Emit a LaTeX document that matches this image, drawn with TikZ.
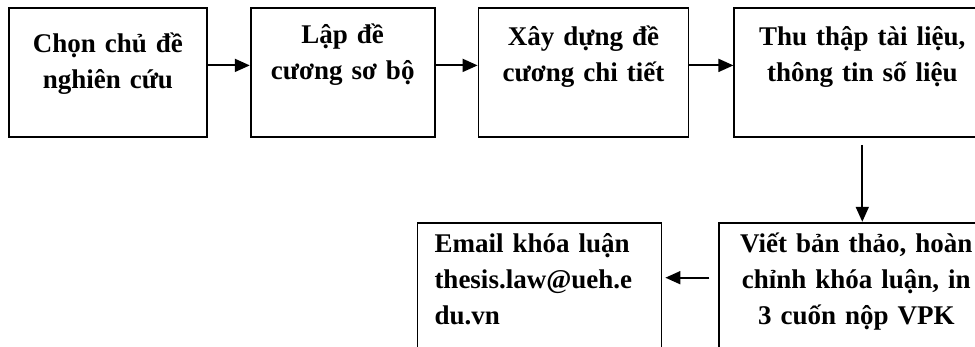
\documentclass[tikz,border=0pt]{standalone}
\usepackage{fontspec}
\setmainfont{Liberation Serif}
\usetikzlibrary{arrows.meta,positioning}

\begin{document}
\begin{tikzpicture}[x=1pt,y=-1pt,->,>={Triangle[length=15pt,width=13pt]},line width=1.8pt,
            stepbox/.style={draw,inner xsep=0pt,inner ysep=0pt,align=center,
              font=\bfseries\fontsize{27}{36}\selectfont,text height=38pt,text depth=91pt}]
            \path[use as bounding box,clip] (0,0) rectangle (975,347);

            % Define the steps as nodes
            \node[stepbox,text width=198pt,text height=45pt,text depth=84pt,anchor=north west] (chon) at (8,7) {Chọn chủ đề\\nghiên cứu};
            \node[stepbox,text width=184pt,text height=36pt,text depth=93pt] (lap) [right=42pt of chon] {Lập đề\\cương sơ bộ};
            \node[stepbox,text width=210pt] (xay) [right=42pt of lap] {Xây dựng đề\\cương chi tiết};
            \node[stepbox,text width=256pt] (thu) [right=44pt of xay] {Thu thập tài liệu,\\thông tin số liệu};
            \node[stepbox,text width=274pt,text height=30pt,text depth=110pt] (viet) [below=84pt of thu,xshift=-6pt] {Viết bản thảo, hoàn\\chỉnh khóa luận, in\\3 cuốn nộp VPK};
            \node[stepbox,text width=210pt,inner xsep=17pt,align=left,text height=30pt,text depth=110pt] (email) [left=56pt of viet] {Email khóa luận\\thesis.law@ueh.e\\du.vn};

            % Connect the steps with arrows
            \draw ([yshift=7pt]chon.east) -- ([yshift=7pt]lap.west);
            \draw ([yshift=7pt]lap.east) -- ([yshift=7pt]xay.west);
            \draw ([yshift=7pt]xay.east) -- ([yshift=7pt]thu.west);
            \draw ([yshift=-7pt]thu.south) -- (thu.south |- viet.north);
            \draw ([xshift=-9pt,yshift=15pt]viet.west) -- ([xshift=3pt,yshift=15pt]email.east);
        \end{tikzpicture}
\end{document}
